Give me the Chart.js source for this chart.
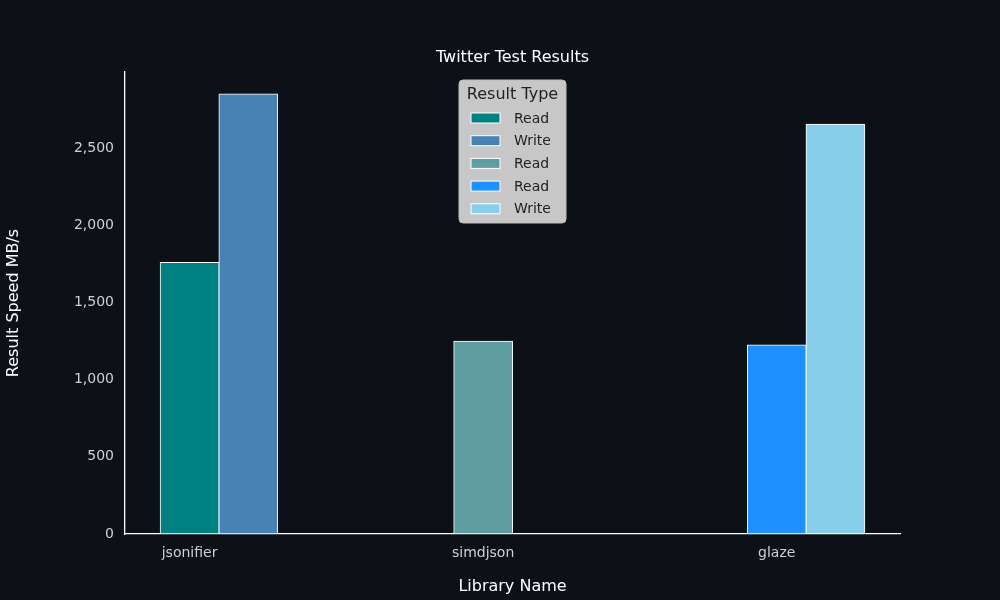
<!DOCTYPE html>
<html>
<head>
<meta charset="utf-8">
<script src="https://cdn.jsdelivr.net/npm/chart.js@4/dist/chart.umd.min.js"></script>
<style>
  html, body { margin: 0; padding: 0; background: #0d1017; }
  #wrap { width: 1000px; height: 600px; }
</style>
</head>
<body>
<div id="wrap"><canvas id="c"></canvas></div>
<script>
// data
const libraries = ['jsonifier', 'simdjson', 'glaze'];
const resultTypes = ['Read', 'Write', 'Read', 'Read', 'Write'];
const barLibrary = [0, 0, 1, 2, 2];      // which library each bar belongs to
const barIsWrite = [false, true, false, false, true];
const barValues = [1760, 2850, 1250, 1225, 2655];
const barColors = ['#008080', '#4682b4', '#5f9ea0', '#1e90ff', '#87ceeb'];

const datasets = barValues.map(function(v, i) {
  const x = barLibrary[i] + (barIsWrite[i] ? 0.1 : -0.1);
  return {
    label: resultTypes[i],
    data: [{ x: x, y: v }],
    backgroundColor: barColors[i],
    borderColor: '#ffffff',
    borderWidth: 1,
    borderSkipped: false,
    barThickness: 59,
    grouped: false
  };
});

// legend drawn inside the plot, like the original
const insideLegend = {
  id: 'insideLegend',
  afterDraw(chart) {
    const ctx = chart.ctx;
    const a = chart.chartArea;
    ctx.save();
    // title
    ctx.fillStyle = '#ffffff';
    ctx.font = '16px "DejaVu Sans"';
    ctx.textAlign = 'center';
    ctx.textBaseline = 'middle';
    ctx.fillText('Twitter Test Results', (a.left + a.right) / 2, 58);

    const x0 = 459, y0 = 80, w = 107, h = 143;
    ctx.fillStyle = 'rgba(210,210,210,0.95)';
    ctx.strokeStyle = '#bbbbbb';
    ctx.beginPath();
    ctx.roundRect(x0, y0, w, h, 4);
    ctx.fill();
    ctx.stroke();
    ctx.fillStyle = '#222222';
    ctx.font = '16px "DejaVu Sans"';
    ctx.fillText('Result Type', x0 + w / 2, y0 + 15);
    ctx.font = '14px "DejaVu Sans"';
    ctx.textAlign = 'left';
    chart.data.datasets.forEach(function(ds, i) {
      const yy = y0 + 38 + i * 22.7;
      ctx.fillStyle = ds.backgroundColor;
      ctx.fillRect(x0 + 12, yy - 5, 29, 10);
      ctx.strokeStyle = '#ffffff';
      ctx.lineWidth = 1;
      ctx.strokeRect(x0 + 12, yy - 5, 29, 10);
      ctx.fillStyle = '#222222';
      ctx.fillText(ds.label, x0 + 55, yy + 1);
    });
    ctx.restore();
  }
};

new Chart(document.getElementById('c'), {
  type: 'bar',
  data: { datasets: datasets },
  plugins: [insideLegend],
  options: {
    responsive: true,
    maintainAspectRatio: false,
    animation: false,
    layout: { padding: { top: 72, right: 100, left: 0, bottom: 0 } },
    plugins: { legend: { display: false }, tooltip: { enabled: false } },
    scales: {
      x: {
        type: 'linear',
        min: -0.32,
        max: 2.32,
        offset: false,
        afterFit: function(s) { s.height = 66; },
        afterBuildTicks: function(s) {
          s.ticks = libraries.map(function(n, i) { return { value: i - 0.1 }; });
        },
        ticks: {
          color: '#d0d0d0',
          font: { size: 14, family: 'DejaVu Sans' },
          padding: 6,
          callback: function(v) { return libraries[Math.round(v + 0.1)]; }
        },
        grid: { display: false, drawTicks: true, tickColor: '#ffffff', tickLength: 5 },
        border: { color: '#ffffff', width: 1.3 },
        title: { display: true, text: 'Library Name', color: '#ffffff', font: { size: 16, family: 'DejaVu Sans' }, padding: { top: 2 } }
      },
      y: {
        min: 0,
        max: 2992,
        afterFit: function(s) { s.width = 125; },
        afterBuildTicks: function(s) {
          s.ticks = [0, 500, 1000, 1500, 2000, 2500].map(function(v) { return { value: v }; });
        },
        ticks: { color: '#d0d0d0', font: { size: 14, family: 'DejaVu Sans' }, padding: 6 },
        grid: { display: false, drawTicks: true, tickColor: '#ffffff', tickLength: 5 },
        border: { color: '#ffffff', width: 1.3 },
        title: { display: true, text: 'Result Speed MB/s', color: '#ffffff', font: { size: 16, family: 'DejaVu Sans' } }
      }
    }
  }
});

// right and top frame lines
Chart.register({
  id: 'frame',
  afterDraw(chart) {}
});
</script>
</body>
</html>
